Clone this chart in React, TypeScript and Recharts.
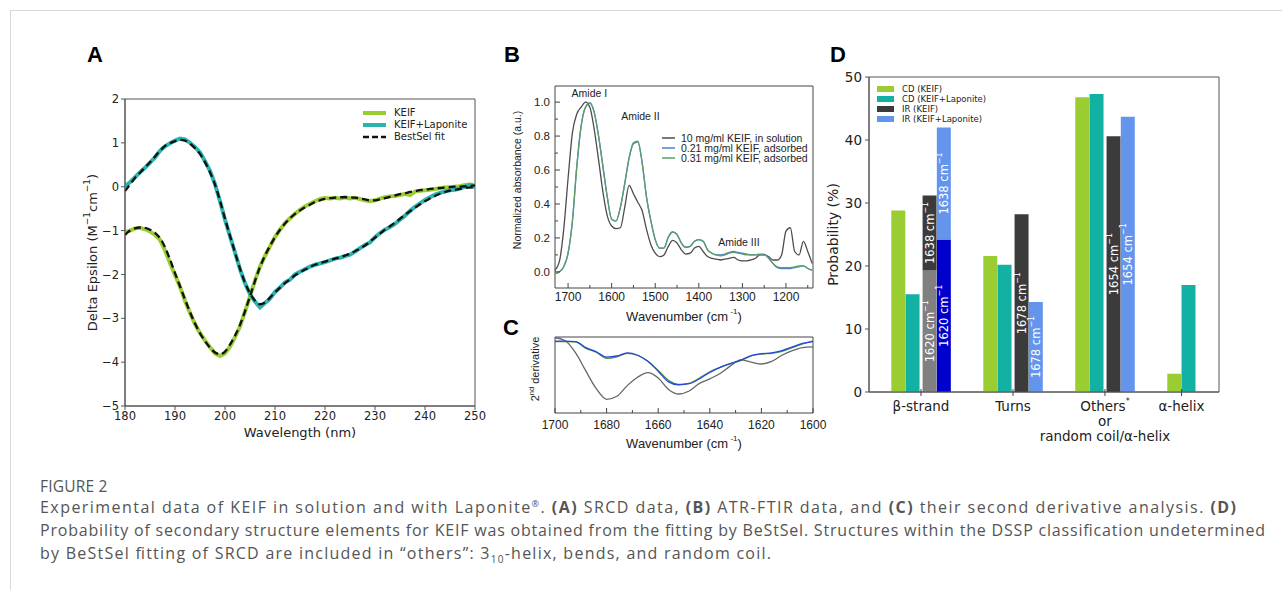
import React from 'react'
import {
  LineChart,
  Line,
  BarChart,
  Bar,
  Cell,
  XAxis,
  YAxis,
  ReferenceArea,
  ReferenceDot,
  Legend,
  LabelList,
} from 'recharts'

const FONT_MPL = '"DejaVu Sans", Verdana, sans-serif'
const FONT_ARIAL = '"Liberation Sans", Arial, Helvetica, sans-serif'
const FONT_CAPTION = '"Open Sans", "Noto Sans", sans-serif'

// ---------- A: SRCD spectra ----------
const wavelengths = [
  180, 181, 182, 183, 184, 185, 186, 187, 188, 189, 190, 191, 192, 193, 194, 195, 196, 197, 198, 199,
  200, 201, 202, 203, 204, 205, 206, 207, 208, 209, 210, 211, 212, 213, 214, 215, 216, 217, 218, 219,
  220, 221, 222, 223, 224, 225, 226, 227, 228, 229, 230, 231, 232, 233, 234, 235, 236, 237, 238, 239,
  240, 241, 242, 243, 244, 245, 246, 247, 248, 249, 250,
]
const keif = [
  -1.04, -1.0, -0.95, -0.94, -0.97, -1.02, -1.1, -1.21, -1.45, -1.74, -2.01, -2.28, -2.6, -2.88, -3.13, -3.34, -3.51, -3.66, -3.8, -3.86,
  -3.8, -3.65, -3.43, -3.19, -2.85, -2.5, -2.14, -1.82, -1.58, -1.36, -1.15, -0.98, -0.83, -0.72, -0.62, -0.53, -0.45, -0.39, -0.33, -0.28,
  -0.26, -0.27, -0.25, -0.27, -0.24, -0.27, -0.25, -0.28, -0.31, -0.33, -0.31, -0.27, -0.24, -0.22, -0.21, -0.19, -0.16, -0.19, -0.11, -0.09,
  -0.08, -0.07, -0.05, -0.03, -0.02, -0.01, 0.0, 0.01, 0.04, 0.05, 0.04,
]
const keifFit = [
  -1.1, -1.0, -0.95, -0.93, -0.94, -0.98, -1.05, -1.17, -1.38, -1.66, -1.97, -2.27, -2.57, -2.86, -3.12, -3.34, -3.52, -3.67, -3.78, -3.82,
  -3.76, -3.6, -3.4, -3.15, -2.84, -2.5, -2.15, -1.83, -1.57, -1.35, -1.15, -0.98, -0.84, -0.72, -0.62, -0.54, -0.47, -0.41, -0.35, -0.31,
  -0.28, -0.26, -0.25, -0.24, -0.24, -0.24, -0.25, -0.27, -0.29, -0.31, -0.31, -0.29, -0.26, -0.23, -0.2, -0.17, -0.15, -0.12, -0.1, -0.08,
  -0.07, -0.05, -0.04, -0.03, -0.02, -0.01, 0.0, 0.0, 0.01, 0.02, 0.03,
]
const keifLap = [
  0.02, 0.1, 0.22, 0.33, 0.43, 0.55, 0.67, 0.82, 0.92, 0.99, 1.05, 1.1, 1.08, 1.0, 0.9, 0.78, 0.58, 0.36, 0.06, -0.33,
  -0.75, -1.13, -1.5, -1.88, -2.2, -2.45, -2.62, -2.75, -2.65, -2.55, -2.4, -2.3, -2.18, -2.12, -2.0, -1.94, -1.88, -1.82, -1.78, -1.75,
  -1.72, -1.68, -1.64, -1.62, -1.58, -1.55, -1.48, -1.4, -1.33, -1.27, -1.15, -1.06, -0.98, -0.92, -0.85, -0.75, -0.66, -0.55, -0.46, -0.38,
  -0.3, -0.24, -0.18, -0.14, -0.11, -0.08, -0.07, -0.04, 0.0, 0.04, -0.02,
]
const keifLapFit = [
  -0.1, 0.05, 0.2, 0.32, 0.44, 0.56, 0.69, 0.82, 0.93, 0.99, 1.04, 1.07, 1.05, 0.98, 0.88, 0.75, 0.56, 0.33, 0.05, -0.32,
  -0.73, -1.12, -1.5, -1.87, -2.19, -2.43, -2.6, -2.68, -2.64, -2.53, -2.41, -2.3, -2.2, -2.11, -2.02, -1.95, -1.89, -1.83, -1.78, -1.74,
  -1.71, -1.67, -1.64, -1.61, -1.57, -1.53, -1.47, -1.41, -1.34, -1.25, -1.16, -1.07, -0.98, -0.9, -0.82, -0.73, -0.64, -0.56, -0.48, -0.4,
  -0.33, -0.27, -0.21, -0.16, -0.12, -0.09, -0.07, -0.05, -0.03, -0.02, -0.01,
]
const aXTicks = [180, 190, 200, 210, 220, 230, 240, 250]
const aYTicks = [-5, -4, -3, -2, -1, 0, 1, 2]

// ---------- B: ATR-FTIR ----------
const wavenumbersB = [
  1730, 1720, 1710, 1700, 1690, 1680, 1670, 1660, 1650, 1640, 1630, 1620, 1610, 1600, 1590, 1580, 1570, 1560, 1550, 1540,
  1530, 1520, 1510, 1500, 1490, 1480, 1470, 1460, 1450, 1440, 1430, 1420, 1410, 1400, 1390, 1380, 1370, 1360, 1350, 1340,
  1330, 1320, 1310, 1300, 1290, 1280, 1270, 1260, 1250, 1240, 1230, 1220, 1210, 1200, 1190, 1180, 1170, 1160, 1150, 1140,
]
const irSolution = [
  0.01, 0.06, 0.25, 0.55, 0.82, 0.93, 0.97, 1.0, 0.97, 0.84, 0.66, 0.47, 0.33, 0.27, 0.255, 0.26, 0.38, 0.51, 0.46, 0.41,
  0.36, 0.25, 0.16, 0.11, 0.09, 0.1, 0.15, 0.185, 0.17, 0.13, 0.105, 0.11, 0.14, 0.15, 0.12, 0.09, 0.08, 0.075, 0.07, 0.075,
  0.08, 0.085, 0.07, 0.065, 0.065, 0.07, 0.08, 0.1, 0.1, 0.09, 0.07, 0.07, 0.1, 0.24, 0.26, 0.12, 0.1, 0.18, 0.12, 0.05,
]
const irAds021 = [
  -0.01, 0.0, 0.03, 0.11, 0.3, 0.62, 0.86, 0.97, 0.995, 0.94, 0.8, 0.62, 0.44, 0.31, 0.3, 0.38, 0.52, 0.67, 0.76, 0.77,
  0.645, 0.44, 0.3, 0.19, 0.14, 0.14, 0.205, 0.235, 0.22, 0.17, 0.145, 0.15, 0.18, 0.19, 0.18, 0.13, 0.11, 0.1, 0.1, 0.105,
  0.115, 0.12, 0.115, 0.11, 0.105, 0.1, 0.1, 0.105, 0.105, 0.085, 0.05, 0.025, 0.02, 0.02, 0.02, 0.025, 0.03, 0.035, 0.02, 0.01,
]
const irAds031 = [
  -0.01, 0.0, 0.03, 0.11, 0.3, 0.62, 0.86, 0.97, 0.995, 0.94, 0.8, 0.62, 0.44, 0.31, 0.3, 0.38, 0.52, 0.67, 0.755, 0.765,
  0.64, 0.44, 0.3, 0.19, 0.14, 0.14, 0.205, 0.235, 0.22, 0.17, 0.145, 0.15, 0.18, 0.19, 0.18, 0.13, 0.11, 0.1, 0.095, 0.1,
  0.11, 0.115, 0.11, 0.105, 0.1, 0.1, 0.1, 0.1, 0.1, 0.08, 0.05, 0.03, 0.025, 0.025, 0.025, 0.03, 0.035, 0.035, 0.02, 0.01,
]
const bXMajor = [1700, 1600, 1500, 1400, 1300, 1200]
const bXTicks = [1700, 1650, 1600, 1550, 1500, 1450, 1400, 1350, 1300, 1250, 1200, 1150]
const bYMajor = [0, 0.2, 0.4, 0.6, 0.8, 1.0]
const bYTicks = [0, 0.1, 0.2, 0.3, 0.4, 0.5, 0.6, 0.7, 0.8, 0.9, 1.0]

// ---------- C: second derivative ----------
const wavenumbersC = [
  1700, 1696, 1692, 1688, 1684, 1680, 1676, 1672, 1668, 1664, 1660, 1656, 1652, 1648, 1644, 1640, 1636, 1632, 1628, 1624,
  1620, 1616, 1612, 1608, 1604, 1600,
]
const d2Solution = [
  9.9, 9.5, 7.9, 5.5, 3.2, 1.8, 2.2, 3.6, 4.7, 5.3, 4.6, 3.1, 2.5, 2.9, 3.9, 4.5, 5.2, 6.2, 7.0, 6.7,
  6.45, 6.8, 7.6, 8.2, 8.6, 8.7,
]
const d2Ads021 = [
  9.45, 9.45, 9.4, 8.6, 8.05, 7.35, 7.5, 7.9, 7.6, 6.8, 5.5, 4.1, 3.7, 3.85, 4.5, 5.35, 6.0, 6.5, 6.95, 7.55,
  7.8, 7.9, 8.2, 8.7, 9.15, 9.4,
]
const d2Ads031 = [
  9.4, 9.4, 9.35, 8.5, 8.0, 7.2, 7.4, 7.85, 7.6, 6.8, 5.6, 4.3, 3.75, 3.9, 4.6, 5.4, 6.0, 6.5, 6.9, 7.5,
  7.75, 7.85, 8.1, 8.6, 9.1, 9.5,
]
const cXMajor = [1700, 1680, 1660, 1640, 1620, 1600]
const cXTicks = [1700, 1690, 1680, 1670, 1660, 1650, 1640, 1630, 1620, 1610, 1600]
const cYTicks = [1.0, 3.6, 6.2]

// ---------- D: secondary structure probabilities ----------
const structures = ['β-strand', 'Turns', 'Others*', 'α-helix']
const structureTickLines = [['β-strand'], ['Turns'], ['Others*', 'or', 'random coil/α-helix'], ['α-helix']]
const cdKeif = [28.8, 21.6, 46.8, 2.9]
const cdKeifLap = [15.5, 20.2, 47.3, 17.0]
const irKeif = [31.2, 28.2, 40.6, null]
const irKeifLap = [42.0, 14.3, 43.7, null]
const irKeif1620 = [19.3, null, null, null]
const irKeifLap1620 = [24.2, null, null, null]
const irBand = ['1638', '1678', '1654', null]
const irLowBand = ['1620', null, null, null]
const dYTicks = [0, 10, 20, 30, 40, 50]

// table builders
const aRows = wavelengths.map((wl, i) => ({
  wl,
  keif: keif[i],
  keifFit: keifFit[i],
  keifLap: keifLap[i],
  keifLapFit: keifLapFit[i],
}))
const bRows = wavenumbersB.map((wn, i) => ({ wn, sol: irSolution[i], a21: irAds021[i], a31: irAds031[i] }))
const cRows = wavenumbersC.map((wn, i) => ({ wn, sol: d2Solution[i], a21: d2Ads021[i], a31: d2Ads031[i] }))

// bar slots within a group (CD pair, then IR pair)
const slotOffset = [-0.245, -0.09, 0.095, 0.25]
type DRow = { x: number; s: number; split: boolean; lower: number; upper: number; labelLower: string | null; labelUpper: string | null }
const dRows: DRow[] = []
structures.forEach((_, g) => {
  const vals = [cdKeif[g], cdKeifLap[g], irKeif[g], irKeifLap[g]]
  const lows = [null, null, irKeif1620[g], irKeifLap1620[g]]
  vals.forEach((v, s) => {
    if (v == null) return
    const low = lows[s]
    const split = low != null
    dRows.push({
      x: g + slotOffset[s],
      s,
      split,
      lower: split ? (low as number) : v,
      upper: split ? +(v - (low as number)).toFixed(2) : 0,
      labelLower: s >= 2 ? (split ? irLowBand[g] : irBand[g]) : null,
      labelUpper: split ? irBand[g] : null,
    })
  })
})
const dTicks = [0, 1, 2, 3 + (slotOffset[0] + slotOffset[1]) / 2]

const C_GREEN = '#9acd32'
const C_TEAL_A = '#29b4ae'
const C_TEAL = '#12b1a4'
const C_DARK = '#3b3b3b'
const C_GRAY = '#808080'
const C_NAVY = '#0000cd'
const C_CORN = '#6495ed'

const lowerColor = (r: DRow) =>
  r.s === 0 ? C_GREEN : r.s === 1 ? C_TEAL : r.s === 2 ? (r.split ? C_GRAY : C_DARK) : r.split ? C_NAVY : C_CORN
const upperColor = (r: DRow) => (r.s === 2 ? C_DARK : C_CORN)

const mplNum = (v: number) => (v < 0 ? '\u2212' + Math.abs(v) : String(v))

// ---------- label / tick components ----------
const AXLabel = ({ viewBox }: any) => (
  <text x={viewBox.x + viewBox.width / 2} y={viewBox.y + 26} textAnchor="middle" dominantBaseline="central" fontSize={13} fontFamily={FONT_MPL} fill="#222">
    Wavelength (nm)
  </text>
)
const AYLabel = ({ viewBox }: any) => {
  const cx = viewBox.x + 27
  const cy = viewBox.y + viewBox.height / 2
  return (
    <text x={cx} y={cy} transform={`rotate(-90 ${cx} ${cy})`} textAnchor="middle" dominantBaseline="central" fontSize={13} fontFamily={FONT_MPL} fill="#222">
      Delta Epsilon (M<tspan dy={-5} fontSize={9}>{'\u2212'}1</tspan>
      <tspan dy={5}>cm</tspan>
      <tspan dy={-5} fontSize={9}>{'\u2212'}1</tspan>
      <tspan dy={5}>)</tspan>
    </text>
  )
}
const WavenumberLabel = ({ viewBox, dy }: any) => (
  <text x={viewBox.x + viewBox.width / 2} y={viewBox.y + dy} textAnchor="middle" dominantBaseline="central" fontSize={13} fontFamily={FONT_ARIAL} fill="#222">
    Wavenumber (cm<tspan dy={-5} fontSize={8}> -1</tspan>
    <tspan dy={5}>)</tspan>
  </text>
)
const BYLabel = ({ viewBox }: any) => {
  const cx = viewBox.x + 7
  const cy = viewBox.y + viewBox.height / 2 - 7
  return (
    <text x={cx} y={cy} transform={`rotate(-90 ${cx} ${cy})`} textAnchor="middle" dominantBaseline="central" fontSize={10.5} fontFamily={FONT_ARIAL} fill="#222">
      Normalized absorbance (a.u.)
    </text>
  )
}
const CYLabel = ({ viewBox }: any) => {
  const cx = viewBox.x + 25
  const cy = viewBox.y + viewBox.height / 2 - 6
  return (
    <text x={cx} y={cy} transform={`rotate(-90 ${cx} ${cy})`} textAnchor="middle" dominantBaseline="central" fontSize={11} fontFamily={FONT_ARIAL} fill="#222">
      2<tspan dy={-4} fontSize={7.5}>nd</tspan>
      <tspan dy={4}> derivative</tspan>
    </text>
  )
}
const DYLabel = ({ viewBox }: any) => {
  const cx = viewBox.x + 4
  const cy = viewBox.y + viewBox.height / 2
  return (
    <text x={cx} y={cy} transform={`rotate(-90 ${cx} ${cy})`} textAnchor="middle" dominantBaseline="central" fontSize={14} fontFamily={FONT_MPL} fill="#222">
      Probability (%)
    </text>
  )
}

// inward ticks (Origin style) with optional labels
const InTick = (p: any) => {
  const { x, y, payload, side, majors, labels, gap = 9, fmt, fontSize = 11.5 } = p
  const v = payload.value
  const major = majors.includes(v)
  const L = major ? 5 : 3
  const pts =
    side === 'bottom' ? [x, y, x, y - L] : side === 'top' ? [x, y, x, y + L] : side === 'left' ? [x, y, x + L, y] : [x, y, x - L, y]
  return (
    <g>
      <line x1={pts[0]} y1={pts[1]} x2={pts[2]} y2={pts[3]} stroke="#444" strokeWidth={1} />
      {labels && major && side === 'bottom' && (
        <text x={x} y={y + gap} textAnchor="middle" dominantBaseline="central" fontSize={fontSize} fontFamily={FONT_ARIAL} fill="#222">
          {fmt ? fmt(v) : v}
        </text>
      )}
      {labels && major && side === 'left' && (
        <text x={x - gap} y={y} textAnchor="end" dominantBaseline="central" fontSize={fontSize} fontFamily={FONT_ARIAL} fill="#222">
          {fmt ? fmt(v) : v}
        </text>
      )}
    </g>
  )
}

const DTick = ({ x, y, index }: any) => {
  const lines = structureTickLines[index] || []
  return (
    <g>
      <line x1={x} y1={y - 3} x2={x} y2={y + 4} stroke="#444" />
      {lines.map((l, i) => (
        <text key={i} x={x} y={y + 14 + i * 15} textAnchor="middle" dominantBaseline="central" fontSize={13.5} fontFamily={FONT_MPL} fill="#222">
          {l.endsWith('*') ? (
            <>
              {l.slice(0, -1)}
              <tspan dy={-5} fontSize={8}>*</tspan>
            </>
          ) : (
            l
          )}
        </text>
      ))}
    </g>
  )
}

const BarText = (props: any) => {
  const vb = props.viewBox && props.viewBox.width != null ? props.viewBox : props
  const { x, y, width, height } = vb
  const value = props.value
  if (!value) return null
  const cx = x + width / 2
  const cy = y + height / 2
  return (
    <text x={cx} y={cy} transform={`rotate(-90 ${cx} ${cy})`} textAnchor="middle" dominantBaseline="central" fill="#fff" fontSize={11.5} fontFamily={FONT_MPL}>
      {value} cm<tspan dy={-5} fontSize={8}>{'\u2212'}1</tspan>
    </text>
  )
}

// ---------- legends ----------
const ALegend = () => (
  <div style={{ fontFamily: FONT_MPL, fontSize: 10, color: '#222' }}>
    {[
      { label: 'KEIF', color: C_GREEN, w: 4, dash: undefined },
      { label: 'KEIF+Laponite', color: C_TEAL_A, w: 4, dash: undefined },
      { label: 'BestSel fit', color: '#111', w: 2.3, dash: '6 3' },
    ].map((it) => (
      <div key={it.label} style={{ display: 'flex', alignItems: 'center', height: 12 }}>
        <svg width={24} height={12}>
          <line x1={0} y1={6} x2={23} y2={6} stroke={it.color} strokeWidth={it.w} strokeDasharray={it.dash} />
        </svg>
        <span style={{ marginLeft: 7, lineHeight: '12px', whiteSpace: 'nowrap' }}>{it.label}</span>
      </div>
    ))}
  </div>
)
const BLegend = () => (
  <div style={{ fontFamily: FONT_ARIAL, fontSize: 10.5, color: '#222' }}>
    {[
      { label: '10 mg/ml KEIF, in solution', color: '#4d4d4d' },
      { label: '0.21 mg/ml KEIF, adsorbed', color: '#4f7fd0' },
      { label: '0.31 mg/ml KEIF, adsorbed', color: '#5d9e68' },
    ].map((it) => (
      <div key={it.label} style={{ display: 'flex', alignItems: 'center', height: 10 }}>
        <svg width={14} height={10}>
          <line x1={0} y1={5} x2={13} y2={5} stroke={it.color} strokeWidth={1.5} />
        </svg>
        <span style={{ marginLeft: 5, lineHeight: '10px', whiteSpace: 'nowrap' }}>{it.label}</span>
      </div>
    ))}
  </div>
)
const DLegend = () => (
  <div style={{ fontFamily: FONT_MPL, fontSize: 8.5, color: '#222' }}>
    {[
      { label: 'CD (KEIF)', color: C_GREEN },
      { label: 'CD (KEIF+Laponite)', color: C_TEAL },
      { label: 'IR (KEIF)', color: C_DARK },
      { label: 'IR (KEIF+Laponite)', color: C_CORN },
    ].map((it) => (
      <div key={it.label} style={{ display: 'flex', alignItems: 'center', height: 10 }}>
        <span style={{ width: 17, height: 6, background: it.color, display: 'inline-block' }} />
        <span style={{ marginLeft: 8, lineHeight: '10px', whiteSpace: 'nowrap' }}>{it.label}</span>
      </div>
    ))}
  </div>
)

const panelLetter = (ch: string, x: number, y: number) => (
  <text x={x} y={y} fontSize={22} fontWeight="bold" fontFamily={FONT_ARIAL} fill="#000">
    {ch}
  </text>
)

const capStyle = { fontFamily: FONT_CAPTION, fontSize: 16, fill: '#555' }

export default function App() {
  return (
    <div style={{ position: 'absolute', left: 0, top: 0, width: 1282, height: 590, background: '#fff', overflow: 'hidden' }}>
      <div style={{ position: 'absolute', left: 10, top: 10, width: 1272, height: 580, borderTop: '1px solid #d8d8d8', borderLeft: '1px solid #d8d8d8' }} />
      <svg style={{ position: 'absolute', left: 0, top: 0 }} width={1282} height={590}>
        {panelLetter('A', 87, 62)}
        {panelLetter('B', 504, 62)}
        {panelLetter('C', 503, 335)}
        {panelLetter('D', 830, 62)}
        <text x={40} y={492} fontFamily={FONT_CAPTION} fontSize={15.5} fill="#555" letterSpacing={0.2}>
          FIGURE 2
        </text>
        <text x={40} y={513} {...capStyle} textLength={1196} lengthAdjust="spacing">
          Experimental data of KEIF in solution and with Laponite<tspan dy={-6} fontSize={9}>®</tspan>
          <tspan dy={6}>. </tspan>
          <tspan fontWeight="bold">(A)</tspan> SRCD data, <tspan fontWeight="bold">(B)</tspan> ATR-FTIR data, and{' '}
          <tspan fontWeight="bold">(C)</tspan> their second derivative analysis. <tspan fontWeight="bold">(D)</tspan>
        </text>
        <text x={40} y={536} {...capStyle} textLength={1225} lengthAdjust="spacing">
          Probability of secondary structure elements for KEIF was obtained from the fitting by BeStSel. Structures within the DSSP classification undetermined
        </text>
        <text x={40} y={559} {...capStyle} textLength={731} lengthAdjust="spacing">
          by BeStSel fitting of SRCD are included in “others”: 3<tspan dy={4} fontSize={10}>10</tspan>
          <tspan dy={-4}>-helix, bends, and random coil.</tspan>
        </text>
      </svg>

      {/* A */}
      <div style={{ position: 'absolute', left: 40, top: 70 }}>
        <LineChart width={450} height={390} data={aRows} margin={{ top: 29, right: 15, left: 25, bottom: 14 }}>
          <XAxis
            dataKey="wl"
            type="number"
            domain={[180, 250]}
            allowDataOverflow
            ticks={aXTicks}
            interval={0}
            tickSize={4}
            tickMargin={2}
            height={40}
            stroke="#555"
            tick={{ fontSize: 11.5, fill: '#222', fontFamily: FONT_MPL }}
            label={<AXLabel />}
          />
          <YAxis
            type="number"
            domain={[-5, 2]}
            allowDataOverflow
            ticks={aYTicks}
            interval={0}
            tickSize={4}
            tickMargin={2}
            width={60}
            stroke="#555"
            tickFormatter={mplNum}
            tick={{ fontSize: 11.5, fill: '#222', fontFamily: FONT_MPL }}
            label={<AYLabel />}
          />
          <ReferenceArea x1={180} x2={250} y1={-5} y2={2} fill="none" stroke="#555" ifOverflow="visible" />
          <Line dataKey="keif" type="linear" stroke={C_GREEN} strokeWidth={4} dot={false} isAnimationActive={false} />
          <Line dataKey="keifLap" type="linear" stroke={C_TEAL_A} strokeWidth={4} dot={false} isAnimationActive={false} />
          <Line dataKey="keifFit" type="monotone" stroke="#111" strokeWidth={2.3} strokeDasharray="7 4" dot={false} isAnimationActive={false} />
          <Line dataKey="keifLapFit" type="monotone" stroke="#111" strokeWidth={2.3} strokeDasharray="7 4" dot={false} isAnimationActive={false} />
          <Legend content={ALegend} layout="vertical" align="center" verticalAlign="middle" wrapperStyle={{ left: 323, top: 37, width: 125, height: 36 }} />
        </LineChart>
      </div>

      {/* B */}
      <div style={{ position: 'absolute', left: 500, top: 60 }}>
        <LineChart width={330} height={272} data={bRows} margin={{ top: 26, right: 17, left: 10, bottom: 12 }}>
          <XAxis
            dataKey="wn"
            type="number"
            domain={[1138, 1730]}
            reversed
            allowDataOverflow
            ticks={bXTicks}
            interval={0}
            tickSize={0}
            tickMargin={0}
            axisLine={false}
            tickLine={false}
            height={32}
            tick={<InTick side="bottom" majors={bXMajor} labels gap={9} fontSize={12} />}
            label={<WavenumberLabel dy={28} />}
          />
          <XAxis
            xAxisId="top"
            orientation="top"
            type="number"
            domain={[1138, 1730]}
            reversed
            allowDataOverflow
            ticks={bXTicks}
            interval={0}
            tickSize={0}
            tickMargin={0}
            axisLine={false}
            tickLine={false}
            height={0}
            tick={<InTick side="top" majors={bXMajor} />}
          />
          <YAxis
            type="number"
            domain={[-0.095, 1.095]}
            allowDataOverflow
            ticks={bYTicks}
            interval={0}
            tickSize={0}
            tickMargin={0}
            axisLine={false}
            tickLine={false}
            width={45}
            tick={<InTick side="left" majors={bYMajor} labels gap={5} fmt={(v: number) => v.toFixed(1)} fontSize={11.5} />}
            label={<BYLabel />}
          />
          <YAxis
            yAxisId="right"
            orientation="right"
            type="number"
            domain={[-0.095, 1.095]}
            allowDataOverflow
            ticks={bYTicks}
            interval={0}
            tickSize={0}
            tickMargin={0}
            axisLine={false}
            tickLine={false}
            width={0}
            tick={<InTick side="right" majors={bYMajor} />}
          />
          <ReferenceArea x1={1138} x2={1730} y1={-0.095} y2={1.095} fill="none" stroke="#444" ifOverflow="visible" />
          <Line dataKey="sol" type="monotone" stroke="#4d4d4d" strokeWidth={1.3} dot={false} isAnimationActive={false} />
          <Line dataKey="a21" type="monotone" stroke="#4f7fd0" strokeWidth={1.3} dot={false} isAnimationActive={false} />
          <Line dataKey="a31" type="monotone" stroke="#5d9e68" strokeWidth={1.3} dot={false} isAnimationActive={false} />
          <ReferenceDot x={1651} y={1.053} r={0} fill="none" stroke="none" ifOverflow="visible" label={{ value: 'Amide I', position: 'center', fontSize: 10.5, fontFamily: FONT_ARIAL, fill: '#222' }} />
          <ReferenceDot x={1534} y={0.918} r={0} fill="none" stroke="none" ifOverflow="visible" label={{ value: 'Amide II', position: 'center', fontSize: 10.5, fontFamily: FONT_ARIAL, fill: '#222' }} />
          <ReferenceDot x={1308} y={0.176} r={0} fill="none" stroke="none" ifOverflow="visible" label={{ value: 'Amide III', position: 'center', fontSize: 10.5, fontFamily: FONT_ARIAL, fill: '#222' }} />
          <Legend content={BLegend} layout="vertical" align="center" verticalAlign="middle" wrapperStyle={{ left: 162, top: 73, width: 160, height: 30 }} />
        </LineChart>
      </div>

      {/* C */}
      <div style={{ position: 'absolute', left: 500, top: 320 }}>
        <LineChart width={330} height={140} data={cRows} margin={{ top: 17, right: 17, left: 10, bottom: 0 }}>
          <XAxis
            dataKey="wn"
            type="number"
            domain={[1600, 1700]}
            reversed
            allowDataOverflow
            ticks={cXTicks}
            interval={0}
            tickSize={0}
            tickMargin={0}
            axisLine={false}
            tickLine={false}
            height={47}
            tick={<InTick side="bottom" majors={cXMajor} labels gap={12} fontSize={12} />}
            label={<WavenumberLabel dy={30} />}
          />
          <XAxis
            xAxisId="top"
            orientation="top"
            type="number"
            domain={[1600, 1700]}
            reversed
            allowDataOverflow
            ticks={cXTicks}
            interval={0}
            tickSize={0}
            tickMargin={0}
            axisLine={false}
            tickLine={false}
            height={0}
            tick={<InTick side="top" majors={cXMajor} />}
          />
          <YAxis type="number" domain={[0, 10]} allowDataOverflow tick={false} tickLine={false} axisLine={false} width={45} label={<CYLabel />} />
          <YAxis
            yAxisId="right"
            orientation="right"
            type="number"
            domain={[0, 10]}
            allowDataOverflow
            ticks={cYTicks}
            interval={0}
            tickSize={0}
            tickMargin={0}
            axisLine={false}
            tickLine={false}
            width={0}
            tick={<InTick side="right" majors={cYTicks} />}
          />
          <ReferenceArea x1={1600} x2={1700} y1={0} y2={10} fill="none" stroke="#444" ifOverflow="visible" />
          <Line dataKey="sol" type="monotone" stroke="#666" strokeWidth={1.3} dot={false} isAnimationActive={false} />
          <Line dataKey="a31" type="monotone" stroke="#4a9a3a" strokeWidth={1.3} dot={false} isAnimationActive={false} />
          <Line dataKey="a21" type="monotone" stroke="#2a45e0" strokeWidth={1.3} dot={false} isAnimationActive={false} />
        </LineChart>
      </div>

      {/* D */}
      <div style={{ position: 'absolute', left: 820, top: 60 }}>
        <BarChart width={420} height={400} data={dRows} margin={{ top: 17, right: 21, left: 9, bottom: 8 }}>
          <XAxis
            dataKey="x"
            type="number"
            domain={[-0.565, 3.24]}
            allowDataOverflow
            ticks={dTicks}
            interval={0}
            tickSize={0}
            tickMargin={0}
            tickLine={false}
            height={60}
            stroke="#555"
            tick={<DTick />}
          />
          <YAxis
            type="number"
            domain={[0, 50]}
            allowDataOverflow
            ticks={dYTicks}
            interval={0}
            tickSize={4}
            tickMargin={3}
            width={40}
            stroke="#555"
            tick={{ fontSize: 13.5, fill: '#222', fontFamily: FONT_MPL }}
            label={<DYLabel />}
          />
          <ReferenceArea x1={-0.565} x2={3.24} y1={0} y2={50} fill="none" stroke="#555" ifOverflow="visible" />
          <Bar dataKey="lower" stackId="ir" barSize={14} isAnimationActive={false}>
            {dRows.map((r, i) => (
              <Cell key={i} fill={lowerColor(r)} />
            ))}
            <LabelList dataKey="labelLower" content={BarText} />
          </Bar>
          <Bar dataKey="upper" stackId="ir" barSize={14} isAnimationActive={false}>
            {dRows.map((r, i) => (
              <Cell key={i} fill={upperColor(r)} />
            ))}
            <LabelList dataKey="labelUpper" content={BarText} />
          </Bar>
          <Legend content={DLegend} layout="vertical" align="center" verticalAlign="middle" wrapperStyle={{ left: 57, top: 24, width: 140, height: 40 }} />
        </BarChart>
      </div>
    </div>
  )
}
